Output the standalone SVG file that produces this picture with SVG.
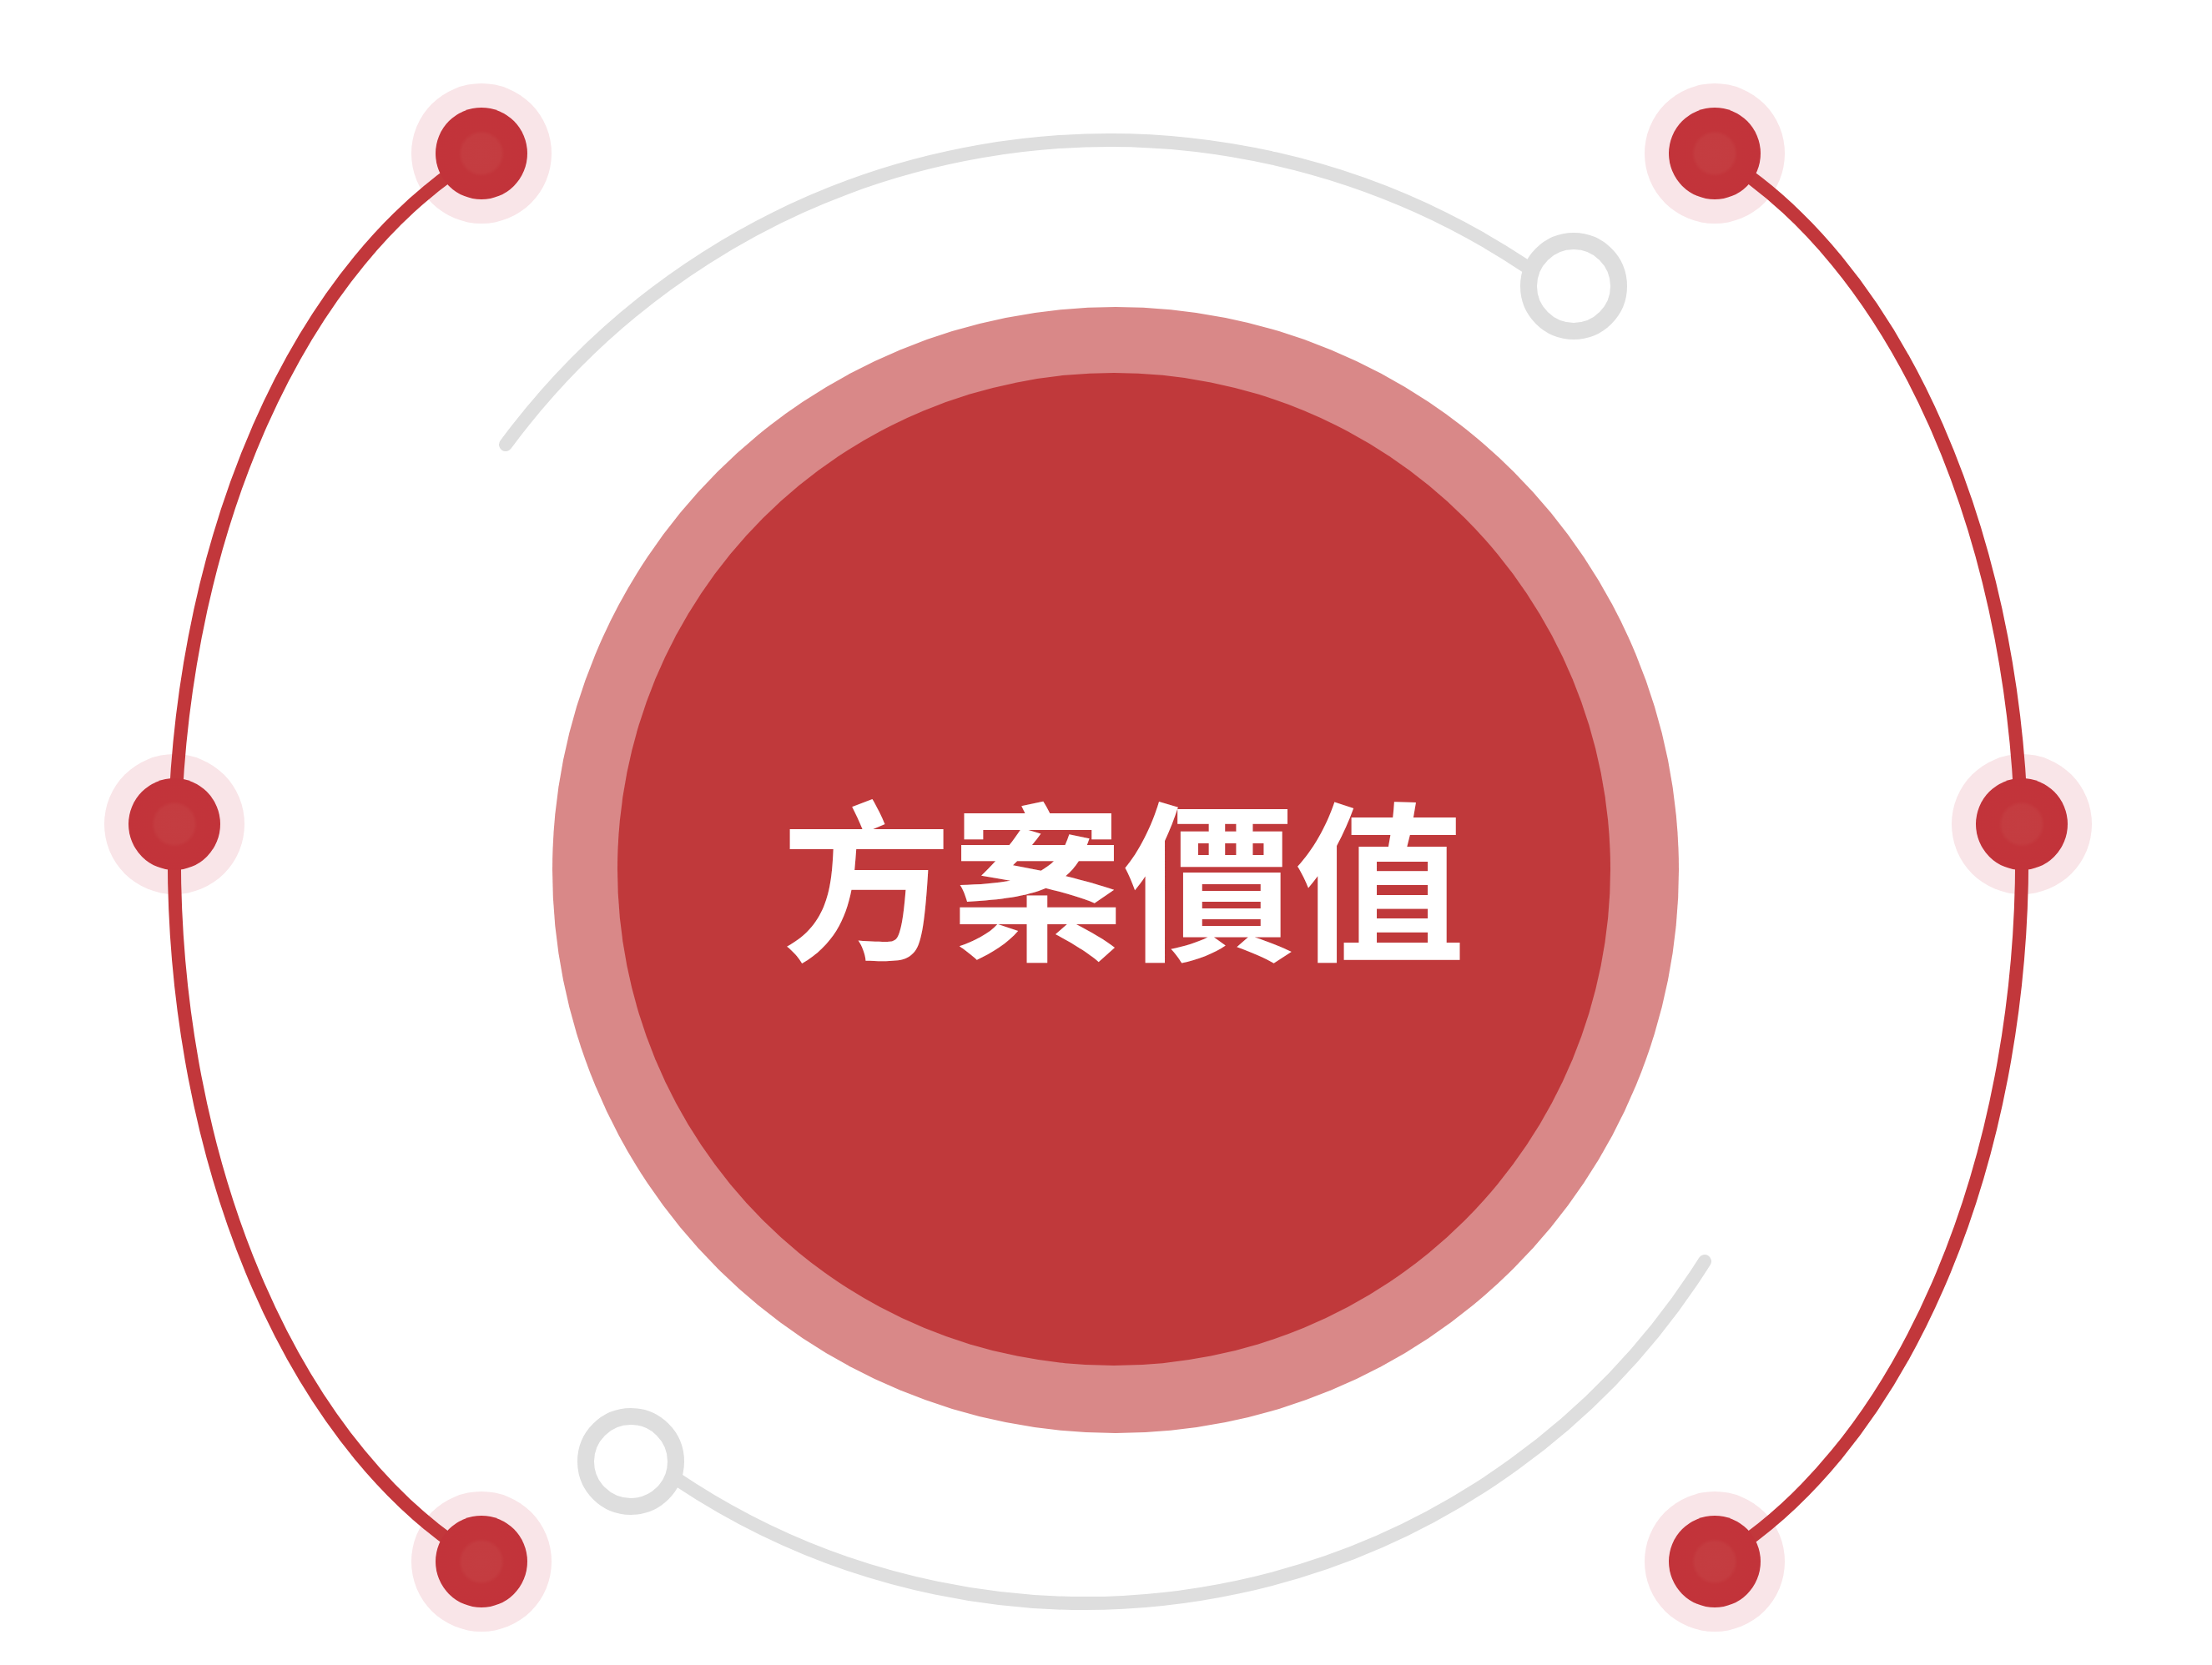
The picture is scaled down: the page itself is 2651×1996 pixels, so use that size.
<svg xmlns="http://www.w3.org/2000/svg" width="2651" height="1996" viewBox="0 0 2651 1996">
  <defs>
    <radialGradient id="dotg" cx="0.5" cy="0.5" r="0.5">
      <stop offset="0" stop-color="#c43d41"/>
      <stop offset="0.42" stop-color="#c43c40"/>
      <stop offset="0.5" stop-color="#c2343a"/>
      <stop offset="1" stop-color="#c2333a"/>
    </radialGradient>
  </defs>
  <style>
    .halo { fill: #f9e5e8; }
    .dot { fill: url(#dotg); }
    .redline { fill: none; stroke: #c2373b; stroke-width: 16; }
    .grayline { fill: none; stroke: #dedede; stroke-width: 16; stroke-linecap: round; }
    .ring { fill: #ffffff; stroke: #dedede; stroke-width: 20; }
    .title { font-family: "Noto Sans CJK TC", "Noto Sans CJK SC", sans-serif; font-size: 205px; font-weight: 700; fill: #ffffff; }
  </style>
  <rect x="0" y="0" width="2651" height="1996" fill="#ffffff"/>

  <g id="halos">
    <circle class="halo" cx="577" cy="184" r="84"/>
    <circle class="halo" cx="209" cy="988" r="84"/>
    <circle class="halo" cx="577" cy="1872" r="84"/>
    <circle class="halo" cx="2055" cy="184" r="84"/>
    <circle class="halo" cx="2423" cy="988" r="84"/>
    <circle class="halo" cx="2055" cy="1872" r="84"/>
  </g>

  <g id="connectors">
    <path class="redline" d="M 577 184 A 564 900 0 0 0 577 1872"/>
    <path class="redline" d="M 2055 184 A 564 900 0 0 1 2055 1872"/>
    <path class="grayline" d="M 606 533 A 900 900 0 0 1 1830 320"/>
    <path class="grayline" d="M 2043 1512 A 878 878 0 0 1 814 1775"/>
  </g>

  <g id="ring-top-right"><circle class="ring" cx="1886" cy="343" r="54"/></g>
  <g id="ring-bottom-left"><circle class="ring" cx="756" cy="1752" r="54"/></g>

  <g id="dot-top-left"><circle class="dot" cx="577" cy="184" r="55"/></g>
  <g id="dot-mid-left"><circle class="dot" cx="209" cy="988" r="55"/></g>
  <g id="dot-bottom-left"><circle class="dot" cx="577" cy="1872" r="55"/></g>
  <g id="dot-top-right"><circle class="dot" cx="2055" cy="184" r="55"/></g>
  <g id="dot-mid-right"><circle class="dot" cx="2423" cy="988" r="55"/></g>
  <g id="dot-bottom-right"><circle class="dot" cx="2055" cy="1872" r="55"/></g>

  <g id="center">
    <circle cx="1337" cy="1043" r="675" fill="#d98888"/>
    <circle cx="1335" cy="1042" r="595" fill="#c0393b"/>
    <text class="title" x="1346" y="1135" text-anchor="middle">方案價值</text>
  </g>
</svg>
